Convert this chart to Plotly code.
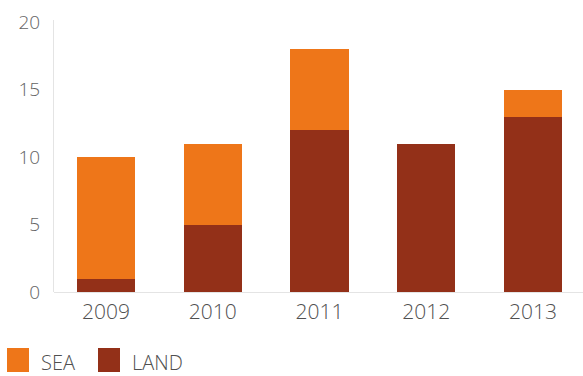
import plotly.graph_objects as go

# Yearly counts, stacked: land at the bottom, sea on top
years = ["2009", "2010", "2011", "2012", "2013"]
land = [1, 5, 12, 11, 13]
sea = [9, 6, 6, 0, 2]
y_ticks = [0, 5, 10, 15, 20]

SEA_COLOR = "#EE7619"
LAND_COLOR = "#933018"
TEXT_COLOR = "#505050"
Y_TEXT_COLOR = "#636363"
AXIS_COLOR = "#e4e4e4"
FONT = "Open Sans"
WEIGHT = 300

W, H = 583, 376
ML, MR, MT, MB = 54, 0, 20, 84

fig = go.Figure()
fig.add_trace(go.Bar(x=years, y=land, name="LAND", marker_color=LAND_COLOR,
                     width=0.545, marker_line_width=0))
fig.add_trace(go.Bar(x=years, y=sea, name="SEA", marker_color=SEA_COLOR,
                     width=0.545, marker_line_width=0))

# Legend drawn by hand so the swatches can be large squares
plot_w = W - ML - MR
plot_h = H - MT - MB


def px_x(p):
    return (p - ML) / plot_w


def px_y(p):
    return (H - MB - p) / plot_h


legend_items = [("SEA", SEA_COLOR, 7, 39), ("LAND", LAND_COLOR, 98, 130)]
shapes = []
annotations = []
for label, color, sx, tx in legend_items:
    shapes.append(dict(type="rect", xref="paper", yref="paper",
                       x0=px_x(sx), x1=px_x(sx + 22), y0=px_y(372), y1=px_y(348),
                       fillcolor=color, line_width=0))
    annotations.append(dict(text=label, xref="paper", yref="paper",
                            x=px_x(tx), y=px_y(362), xanchor="left", yanchor="middle",
                            showarrow=False,
                            font=dict(family=FONT, size=20, color=TEXT_COLOR,
                                      weight=WEIGHT)))

fig.update_layout(
    width=W, height=H,
    margin=dict(l=ML, r=MR, t=MT, b=MB),
    barmode="stack",
    showlegend=False,
    plot_bgcolor="white", paper_bgcolor="white",
    font=dict(family=FONT, size=18, color=TEXT_COLOR, weight=WEIGHT),
    shapes=shapes,
    annotations=annotations,
    xaxis=dict(range=[-0.487, 4.469], showgrid=False, zeroline=False,
               showline=False, ticks="", ticklabelstandoff=5,
               tickfont=dict(size=21, color=TEXT_COLOR, weight=WEIGHT)),
    yaxis=dict(range=[0, 20.15], tickvals=y_ticks, showgrid=False,
               zeroline=True, zerolinecolor=AXIS_COLOR, zerolinewidth=1,
               showline=True, linecolor=AXIS_COLOR, linewidth=1,
               ticks="", ticklabelstandoff=9,
               tickfont=dict(size=19, color=Y_TEXT_COLOR, weight=WEIGHT)),
)

fig.write_html("out.html")
